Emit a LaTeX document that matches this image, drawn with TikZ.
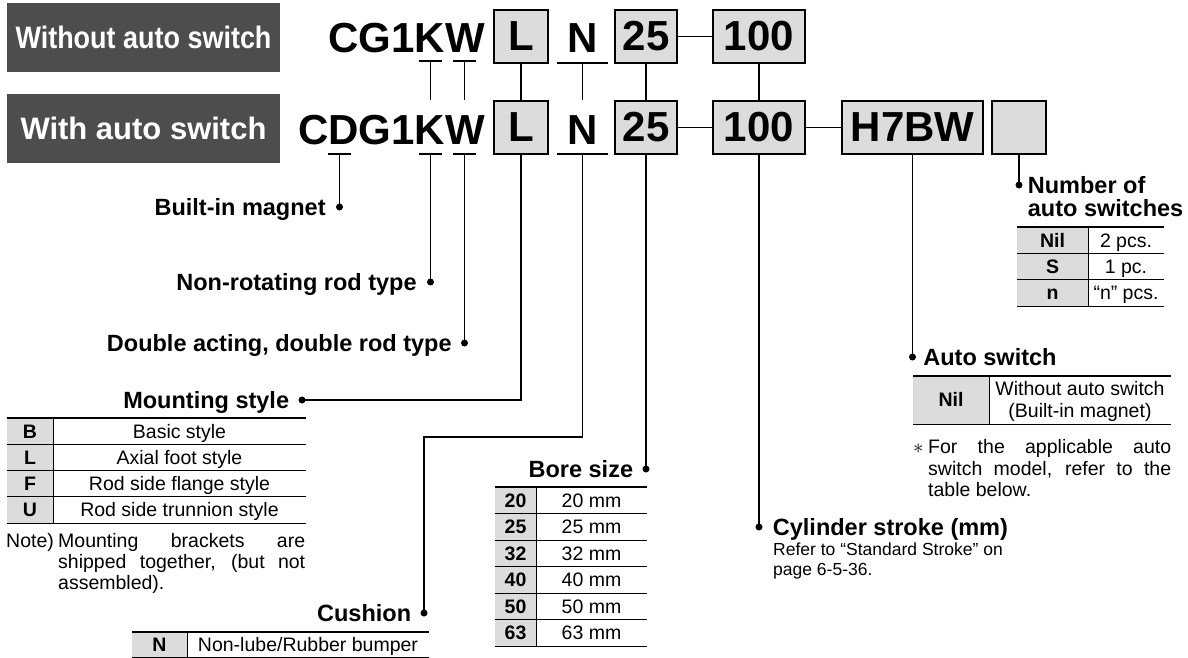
\documentclass[tikz,border=0pt]{standalone}
\usepackage{fontspec}
\setmainfont{Liberation Sans}
\newfontfamily\narrowfont[FakeStretch=0.87]{Liberation Sans}
\usetikzlibrary{positioning}
\definecolor{titlegrey}{HTML}{4D4D4D}
\definecolor{cellgrey}{HTML}{DCDCDC}
\tikzset{%
	titlebox/.style = {fill=titlegrey, text=white, minimum width=273pt, minimum height=69pt, inner sep=0pt, font=\fontsize{31}{36}\selectfont\bfseries},
	codebox/.style  = {draw, line width=1.9pt, fill=cellgrey, minimum height=53pt, inner sep=0pt, font=\fontsize{42}{48}\selectfont\bfseries},
	codetext/.style = {inner sep=0pt, font=\fontsize{42}{48}\selectfont\bfseries},
	leader/.style   = {line width=1.9pt},
	leaddot/.style  = {circle, fill, inner sep=0pt, minimum size=7pt},
	lbl/.style      = {inner sep=0pt, text height=17pt, text depth=0pt, font=\fontsize{23.5}{28}\selectfont\bfseries},
	valcell/.style  = {inner sep=0pt, text height=13.8pt, text depth=0pt, font=\fontsize{19.5}{22}\selectfont},
	keycell/.style  = {valcell, font=\fontsize{19.5}{22}\selectfont\bfseries},
	smalltext/.style= {inner sep=0pt, text height=12.5pt, text depth=0pt, font=\fontsize{17.5}{20}\selectfont},
	toprule/.style  = {line width=1.6pt},
	rule/.style     = {line width=0.8pt},
}

\begin{document}
\begin{tikzpicture}[x=1pt,y=-1pt]
	\useasboundingbox (0,0) rectangle (1188,658);
	
	\node[titlebox] (without) at (143.5,37.5) {\narrowfont Without auto switch};
	\node[titlebox] (with) at (143.5,128.5) {With auto switch};
	
	% part number, first row
	\node[codetext, anchor=base east] (cg) at (485,53) {CG1KW};
	\node[codebox, minimum width=54pt] (mnt1) at (521,36.5) {L};
	\node[codetext, anchor=base] (cush1) at (582.5,53) {N};
	\node[codebox, minimum width=62pt] (bore1) at (646,36.5) {25};
	\node[codebox, minimum width=92pt] (strk1) at (759,36.5) {100};
	\draw[leader] (bore1) -- (strk1);
	
	% part number, second row
	\node[codetext, anchor=base east] (cdg) at (485,144) {CDG1KW};
	\node[codebox, minimum width=54pt] (mnt2) at (521,127.5) {L};
	\node[codetext, anchor=base] (cush2) at (582.5,144) {N};
	\node[codebox, minimum width=62pt] (bore2) at (646,127.5) {25};
	\node[codebox, minimum width=92pt] (strk2) at (759,127.5) {100};
	\node[codebox, minimum width=141pt] (sw2) at (912.5,127.5) {H7BW};
	\node[codebox, minimum width=54pt] (num2) at (1019,127.5) {};
	\draw[leader] (bore2) -- (strk2);
	\draw[leader] (strk2) -- (sw2);
	
	% underlines
	\coordinate (uk1) at (430.5,61);
	\coordinate (uw1) at (464.5,61);
	\coordinate (un1) at (582.5,63);
	\coordinate (ud2) at (339.5,154);
	\coordinate (uk2) at (430.5,154);
	\coordinate (uw2) at (464.5,154);
	\coordinate (un2) at (582.5,154);
	\foreach \u in {uk1,uw1,ud2,uk2,uw2} \draw[leader] ([xshift=-11.5pt]\u) -- ([xshift=11.5pt]\u);
	\foreach \u in {un1,un2} \draw[leader] ([xshift=-25.5pt]\u) -- ([xshift=25.5pt]\u);
	
	% first row to second row
	\foreach \u in {uk1,uw1,un1} \draw[leader] (\u) -- (\u |- mnt2.north);
	\draw[leader] (mnt1) -- (mnt2);
	\draw[leader] (bore1) -- (bore2);
	\draw[leader] (strk1) -- (strk2);
	
	% leaders and labels
	\node[leaddot] (dmag) at (339.5,207) {};
	\node[lbl, left=10pt of dmag] (mag) {Built-in magnet};
	\draw[leader] (ud2) -- (dmag.center);
	
	\node[leaddot] (drot) at (430.5,282) {};
	\node[lbl, left=10pt of drot] (rot) {Non-rotating rod type};
	\draw[leader] (uk2) -- (drot.center);
	
	\node[leaddot] (drod) at (464.5,343) {};
	\node[lbl, left=9pt of drod] (rod) {Double acting, double rod type};
	\draw[leader] (uw2) -- (drod.center);
	
	\node[leaddot] (dms) at (302,400) {};
	\node[lbl, left=9pt of dms] (ms) {Mounting style};
	\draw[leader] (mnt2.south) |- (dms.center);
	
	\coordinate (cbend) at (424,437);
	\node[leaddot] (dcu) at (424,613) {};
	\node[lbl, left=9pt of dcu] (cu) {Cushion};
	\draw[leader] (un2) |- (cbend) -- (dcu.center);
	
	\node[leaddot] (dbs) at (646,469) {};
	\node[lbl, left=9pt of dbs] (bs) {Bore size};
	\draw[leader] (bore2.south) -- (dbs.center);
	
	\node[leaddot] (dcs) at (759,527) {};
	\node[lbl, right=10pt of dcs] (cs) {Cylinder stroke (mm)};
	\draw[leader] (strk2.south) -- (dcs.center);
	\node[smalltext, anchor=west] (ref1) at (773,549) {Refer to “Standard Stroke” on};
	\node[smalltext, anchor=west] (ref2) at (773,569) {page 6-5-36.};
	
	\node[leaddot] (das) at (912.5,357) {};
	\node[lbl, right=7pt of das] (as) {Auto switch};
	\draw[leader] (sw2.south) -- (das.center);
	
	\node[leaddot] (dnum) at (1019,185) {};
	\node[lbl, right=5pt of dnum] (nm1) {Number of};
	\node[lbl, anchor=west] (nm2) at ([yshift=-23pt]nm1.west) {auto switches};
	\draw[leader] (num2.south) -- (dnum.center);
	
	% mounting style table
	\fill[cellgrey] (7,418) rectangle (53,523);
	\foreach \k/\t/\y in {B/Basic style/431.1, L/Axial foot style/457.4, F/Rod side flange style/483.6, U/Rod side trunnion style/509.9}
		{\node[keycell] (mk\k) at (30,\y) {\k}; \node[valcell] (mt\k) at (179.5,\y) {\t};}
	\foreach \y in {444.25,470.5,496.75} \draw[rule] (7,\y) -- (306,\y);
	\draw[rule] (53,418) -- (53,523);
	\draw[toprule] (7,418) -- (306,418);
	\draw[rule] (7,523) -- (306,523);
	\node[valcell, anchor=west] (note) at (6,541) {Note)};
	\node[valcell, anchor=west] (nl1) at (58,541) {\makebox[247pt][s]{Mounting brackets are}};
	\node[valcell, anchor=west] (nl2) at (58,562) {\makebox[247pt][s]{shipped together, (but not}};
	\node[valcell, anchor=west] (nl3) at (58,583) {assembled).};
	
	% cushion table
	\fill[cellgrey] (132,632) rectangle (187,658);
	\node[keycell] (ck) at (159.5,645) {N};
	\node[valcell] (cv) at (308,645) {Non-lube/Rubber bumper};
	\draw[rule] (187,632) -- (187,658);
	\draw[toprule] (132,632) -- (429,632);
	\draw[rule] (132,657.6) -- (429,657.6);
	
	% bore size table
	\fill[cellgrey] (495,487) rectangle (536,646);
	\foreach \k/\y in {20/500.25, 25/526.75, 32/553.25, 40/579.75, 50/606.25, 63/632.75}
		{\node[keycell] (bk\k) at (515.5,\y) {\k}; \node[valcell] (bv\k) at (591.5,\y) {\k{} mm};}
	\foreach \y in {513.5,540,566.5,593,619.5,646} \draw[rule] (495,\y) -- (647,\y);
	\draw[rule] (536,487) -- (536,646);
	\draw[toprule] (495,487) -- (647,487);
	
	% auto switch table
	\fill[cellgrey] (913,376) rectangle (989,424);
	\node[keycell] (ak) at (951,400) {Nil};
	\node[valcell] (av1) at (1080,389) {Without auto switch};
	\node[valcell] (av2) at (1080,411) {(Built-in magnet)};
	\draw[rule] (989,376) -- (989,424);
	\draw[toprule] (913,376) -- (1171,376);
	\draw[rule] (913,424) -- (1171,424);
	\node[valcell, anchor=west] (ast) at (913,447) {$\ast$};
	\node[valcell, anchor=west] (an1) at (928,447) {\makebox[243pt][s]{For the applicable auto}};
	\node[valcell, anchor=west] (an2) at (928,469) {\makebox[243pt][s]{switch model, refer to the}};
	\node[valcell, anchor=west] (an3) at (928,490) {table below.};
	
	% number of auto switches table
	\fill[cellgrey] (1017,227) rectangle (1088,306);
	\foreach \k/\t/\y in {Nil/2 pcs./240.2, S/1 pc./266.5, n/“n” pcs./292.8}
		{\node[keycell] (nk\k) at (1052.5,\y) {\k}; \node[valcell] (nv\k) at (1126,\y) {\t};}
	\foreach \y in {253.3,279.7,306} \draw[rule] (1017,\y) -- (1164,\y);
	\draw[rule] (1088,227) -- (1088,306);
	\draw[toprule] (1017,227) -- (1164,227);
\end{tikzpicture}
\end{document}
